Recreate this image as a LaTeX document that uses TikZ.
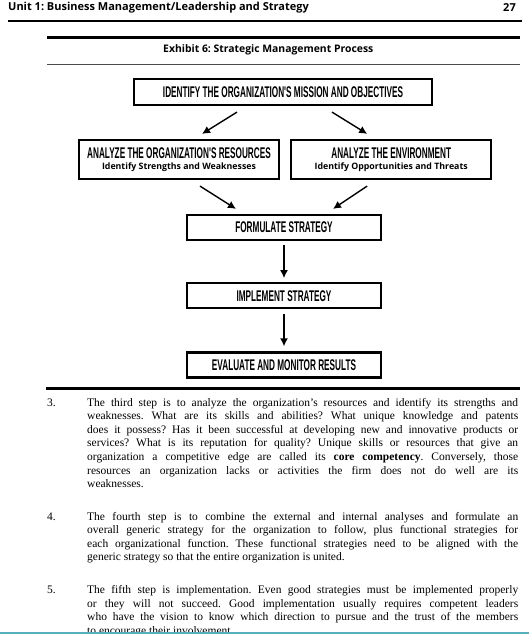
\documentclass[tikz,border=0pt]{standalone}
\usepackage{fontspec}
\usepackage{graphicx}
\setmainfont{Liberation Serif}
\newfontfamily\headfont{Open Sans}
\newfontfamily\capsfont{Liberation Sans}
\usetikzlibrary{positioning, arrows.meta}
\definecolor{pageteal}{RGB}{84,176,186}

\newcommand{\boxcaps}[1]{\scalebox{0.53}[1]{\capsfont\bfseries\fontsize{15.5}{15.5}\selectfont #1}}
\newcommand{\subline}[1]{{\headfont\bfseries\fontsize{8.8}{10}\selectfont #1}}
\newcommand{\jline}[1]{\makebox[431pt][s]{#1}\\}
\frenchspacing

\begin{document}
\begin{tikzpicture}[
    x=1pt, y=-1pt,
    node distance=41pt and 10pt,
    box/.style={rectangle, draw, line width=2.2pt, inner sep=0pt, minimum width=194pt, minimum height=25pt, align=center},
    twobox/.style={box, minimum width=200pt, minimum height=39pt},
    arrow/.style={-{Latex[length=8pt,width=8pt]}, line width=1.4pt},
    head/.style={font=\headfont\bfseries\fontsize{11}{13}\selectfont, inner sep=0pt},
    para/.style={font=\fontsize{11.5}{13.6}\selectfont, align=left, inner sep=0pt, anchor=north west},
    num/.style={font=\fontsize{11.5}{13.6}\selectfont, inner sep=0pt, anchor=base west}
]
    \fill[white] (0,0) rectangle (529,635);
    \useasboundingbox (0,0) rectangle (529,635);

    % page header
    \node[head, anchor=west] (unit) at (8,8) {Unit 1: Business Management/Leadership and Strategy};
    \node[head, anchor=east] (page) at (516,8) {27};
    \draw[line width=1.2pt] (8,21) -- (522,21);

    % exhibit title and rules
    \draw[line width=3pt] (47,37.5) -- (520,37.5);
    \node[head, anchor=west, font=\headfont\bfseries\fontsize{10.4}{12}\selectfont] (title) at (163,50) {Exhibit 6: Strategic Management Process};
    \draw[line width=0.8pt, black!70] (47,64) -- (520,64);

    % process boxes
    \node[box, minimum width=298pt, minimum height=26pt] (mission) at (283,92) {\boxcaps{IDENTIFY THE ORGANIZATION'S MISSION AND OBJECTIVES}};
    \node[twobox] (resources) at (179,159.5) {\boxcaps{ANALYZE THE ORGANIZATION'S RESOURCES}\\[-1pt]\subline{Identify Strengths and Weaknesses}};
    \node[twobox, right=10pt of resources] (environment) {\boxcaps{ANALYZE THE ENVIRONMENT}\\[-1pt]\subline{Identify Opportunities and Threats}};
    \node[box] (formulate) at (284,227.5) {\boxcaps{FORMULATE STRATEGY}};
    \node[box, below=of formulate] (implement) {\boxcaps{IMPLEMENT STRATEGY}};
    \node[box, below=42pt of implement] (evaluate) {\boxcaps{EVALUATE AND MONITOR RESULTS}};

    \draw[arrow] ([xshift=-46pt, yshift=-6pt]mission.south) -- ([xshift=23pt, yshift=5pt]resources.north);
    \draw[arrow] ([xshift=49pt, yshift=-6pt]mission.south) -- ([xshift=-24pt, yshift=5pt]environment.north);
    \draw[arrow] ([xshift=21pt, yshift=-6pt]resources.south) -- ([xshift=-48pt, yshift=5pt]formulate.north);
    \draw[arrow] ([xshift=-24pt, yshift=-6pt]environment.south) -- ([xshift=49pt, yshift=5pt]formulate.north);
    \draw[arrow, shorten <=4pt, shorten >=4pt] (formulate) -- (implement);
    \draw[arrow, shorten <=5pt, shorten >=5pt] (implement) -- (evaluate);

    \draw[line width=3pt] (46,388) -- (520,388);

    % numbered steps
    \node[num] (n3) at (47,406) {3.};
    \node[para] (step3) at (87,397.8) {%
        \jline{The third step is to analyze the organization's resources and identify its strengths and}
        \jline{weaknesses. What are its skills and abilities? What unique knowledge and patents}
        \jline{does it possess? Has it been successful at developing new and innovative products or}
        \jline{services? What is its reputation for quality? Unique skills or resources that give an}
        \jline{organization a competitive edge are called its \textbf{core competency}. Conversely, those}
        \jline{resources an organization lacks or activities the firm does not do well are its}
        weaknesses.};
    \node[num] (n4) at (47,520) {4.};
    \node[para] (step4) at (87,511.8) {%
        \jline{The fourth step is to combine the external and internal analyses and formulate an}
        \jline{overall generic strategy for the organization to follow, plus functional strategies for}
        \jline{each organizational function. These functional strategies need to be aligned with the}
        generic strategy so that the entire organization is united.};
    \node[num] (n5) at (47,593.5) {5.};
    \node[para] (step5) at (87,585.3) {%
        \jline{The fifth step is implementation. Even good strategies must be implemented properly}
        \jline{or they will not succeed. Good implementation usually requires competent leaders}
        \jline{who have the vision to know which direction to pursue and the trust of the members}
        to encourage their involvement.};

    % page edge
    \fill[white] (0,633) rectangle (529,636);
    \draw[pageteal, line width=1.5pt] (0,633) -- (529,633);
\end{tikzpicture}
\end{document}
